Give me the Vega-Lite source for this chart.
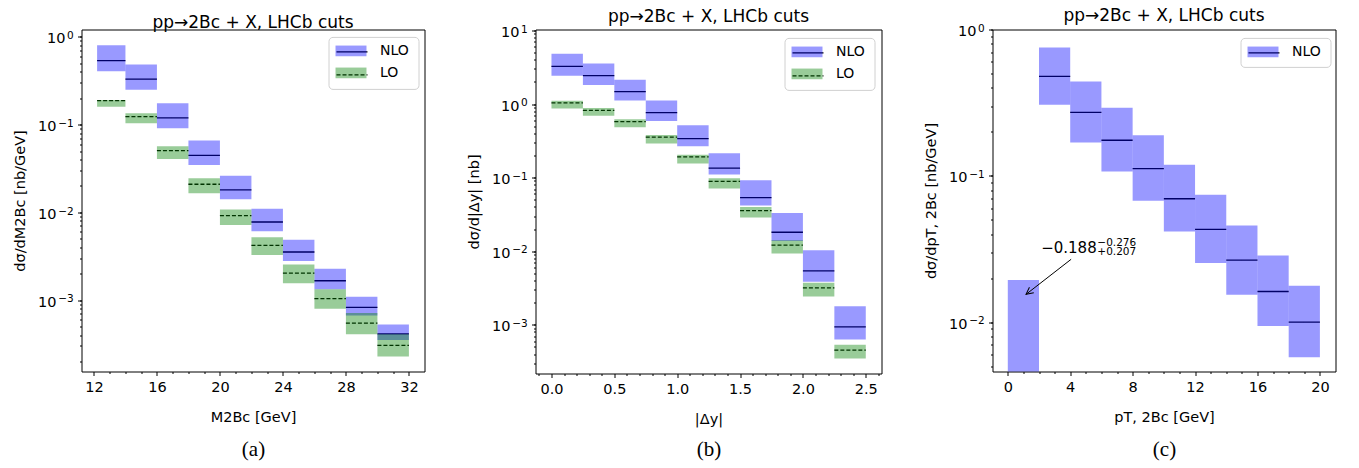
{
  "$schema": "https://vega.github.io/schema/vega-lite/v6.json",
  "padding": {"left": 11.5, "top": 6.5, "right": 5, "bottom": 5},
  "background": "white",
  "spacing": 111,
  "bounds": "flush",
  "resolve": {"scale": {"fill": "independent", "strokeDash": "independent"}, "legend": {"fill": "independent", "strokeDash": "independent"}},
  "config": {
    "view": {"stroke": "black", "strokeWidth": 1},
    "axis": {"labelFont": "DejaVu Sans", "labelFontSize": 14.5, "labelColor": "black", "tickColor": "black", "tickWidth": 1, "domain": false, "grid": false, "titleFont": "DejaVu Sans", "titleFontSize": 14.5, "titleFontWeight": "normal", "titleColor": "black", "labelFlush": false, "labelOverlap": false},
    "legend": {"labelFont": "DejaVu Sans", "labelFontSize": 14, "labelColor": "black", "title": null, "orient": "none", "symbolSize": 196, "symbolOffset": 8.5, "padding": 7, "labelOffset": 22, "rowPadding": 8},
    "title": {"font": "DejaVu Sans", "fontSize": 17, "fontWeight": "normal", "color": "black", "offset": -2, "anchor": "middle"}
  },
  "datasets": {
    "mass": [
      {"lo": 12.2, "hi": 14, "s": "NLO", "c": 0.537, "dn": 0.406, "up": 0.80},
      {"lo": 14, "hi": 16, "s": "NLO", "c": 0.329, "dn": 0.249, "up": 0.483},
      {"lo": 16, "hi": 18, "s": "NLO", "c": 0.119, "dn": 0.0908, "up": 0.175},
      {"lo": 18, "hi": 20, "s": "NLO", "c": 0.0447, "dn": 0.0347, "up": 0.0657},
      {"lo": 20, "hi": 22, "s": "NLO", "c": 0.0180, "dn": 0.0141, "up": 0.0262},
      {"lo": 22, "hi": 24, "s": "NLO", "c": 0.00776, "dn": 0.00607, "up": 0.0110},
      {"lo": 24, "hi": 26, "s": "NLO", "c": 0.00353, "dn": 0.00279, "up": 0.00488},
      {"lo": 26, "hi": 28, "s": "NLO", "c": 0.00166, "dn": 0.00133, "up": 0.00228},
      {"lo": 28, "hi": 30, "s": "NLO", "c": 0.000824, "dn": 0.000668, "up": 0.00109},
      {"lo": 30, "hi": 32, "s": "NLO", "c": 0.000413, "dn": 0.000350, "up": 0.000528},
      {"lo": 12.2, "hi": 14, "s": "LO", "c": 0.188, "dn": 0.160, "up": 0.191},
      {"lo": 14, "hi": 16, "s": "LO", "c": 0.123, "dn": 0.1036, "up": 0.135},
      {"lo": 16, "hi": 18, "s": "LO", "c": 0.0505, "dn": 0.0406, "up": 0.0566},
      {"lo": 18, "hi": 20, "s": "LO", "c": 0.0209, "dn": 0.0165, "up": 0.0244},
      {"lo": 20, "hi": 22, "s": "LO", "c": 0.00916, "dn": 0.00718, "up": 0.0108},
      {"lo": 22, "hi": 24, "s": "LO", "c": 0.00420, "dn": 0.00326, "up": 0.00519},
      {"lo": 24, "hi": 26, "s": "LO", "c": 0.00203, "dn": 0.00156, "up": 0.00255},
      {"lo": 26, "hi": 28, "s": "LO", "c": 0.00104, "dn": 0.000796, "up": 0.00133},
      {"lo": 28, "hi": 30, "s": "LO", "c": 0.000547, "dn": 0.000409, "up": 0.000711},
      {"lo": 30, "hi": 32, "s": "LO", "c": 0.000304, "dn": 0.000228, "up": 0.000409}
    ],
    "dy": [
      {"lo": 0.0, "hi": 0.25, "s": "NLO", "c": 3.25, "dn": 2.43, "up": 4.82},
      {"lo": 0.25, "hi": 0.5, "s": "NLO", "c": 2.43, "dn": 1.81, "up": 3.56},
      {"lo": 0.5, "hi": 0.75, "s": "NLO", "c": 1.47, "dn": 1.12, "up": 2.14},
      {"lo": 0.75, "hi": 1.0, "s": "NLO", "c": 0.762, "dn": 0.588, "up": 1.12},
      {"lo": 1.0, "hi": 1.25, "s": "NLO", "c": 0.338, "dn": 0.266, "up": 0.513},
      {"lo": 1.25, "hi": 1.5, "s": "NLO", "c": 0.135, "dn": 0.110, "up": 0.214},
      {"lo": 1.5, "hi": 1.75, "s": "NLO", "c": 0.0536, "dn": 0.0417, "up": 0.092},
      {"lo": 1.75, "hi": 2.0, "s": "NLO", "c": 0.0181, "dn": 0.0138, "up": 0.0331},
      {"lo": 2.0, "hi": 2.25, "s": "NLO", "c": 0.00541, "dn": 0.00384, "up": 0.0103},
      {"lo": 2.25, "hi": 2.5, "s": "NLO", "c": 0.00094, "dn": 0.000633, "up": 0.00179},
      {"lo": 0.0, "hi": 0.25, "s": "LO", "c": 1.04, "dn": 0.873, "up": 1.11},
      {"lo": 0.25, "hi": 0.5, "s": "LO", "c": 0.820, "dn": 0.695, "up": 0.883},
      {"lo": 0.5, "hi": 0.75, "s": "LO", "c": 0.575, "dn": 0.482, "up": 0.619},
      {"lo": 0.75, "hi": 1.0, "s": "LO", "c": 0.356, "dn": 0.290, "up": 0.380},
      {"lo": 1.0, "hi": 1.25, "s": "LO", "c": 0.191, "dn": 0.155, "up": 0.205},
      {"lo": 1.25, "hi": 1.5, "s": "LO", "c": 0.089, "dn": 0.071, "up": 0.098},
      {"lo": 1.5, "hi": 1.75, "s": "LO", "c": 0.0356, "dn": 0.0287, "up": 0.040},
      {"lo": 1.75, "hi": 2.0, "s": "LO", "c": 0.0121, "dn": 0.0093, "up": 0.0141},
      {"lo": 2.0, "hi": 2.25, "s": "LO", "c": 0.00318, "dn": 0.00243, "up": 0.00372},
      {"lo": 2.25, "hi": 2.5, "s": "LO", "c": 0.000453, "dn": 0.000349, "up": 0.000535}
    ],
    "pt": [
      {"lo": 0, "hi": 2, "s": "NLO", "c": -0.188, "dn": 0.004, "up": 0.0194},
      {"lo": 2, "hi": 4, "s": "NLO", "c": 0.479, "dn": 0.306, "up": 0.753},
      {"lo": 4, "hi": 6, "s": "NLO", "c": 0.271, "dn": 0.169, "up": 0.442},
      {"lo": 6, "hi": 8, "s": "NLO", "c": 0.175, "dn": 0.107, "up": 0.292},
      {"lo": 8, "hi": 10, "s": "NLO", "c": 0.112, "dn": 0.0676, "up": 0.189},
      {"lo": 10, "hi": 12, "s": "NLO", "c": 0.0697, "dn": 0.0416, "up": 0.119},
      {"lo": 12, "hi": 14, "s": "NLO", "c": 0.0430, "dn": 0.0254, "up": 0.0743},
      {"lo": 14, "hi": 16, "s": "NLO", "c": 0.0265, "dn": 0.0154, "up": 0.0458},
      {"lo": 16, "hi": 18, "s": "NLO", "c": 0.0162, "dn": 0.0094, "up": 0.0285},
      {"lo": 18, "hi": 20, "s": "NLO", "c": 0.0100, "dn": 0.00575, "up": 0.0177}
    ]
  },
  "hconcat": [
    {
      "width": 343, "height": 342,
      "title": {"text": "pp→2Bc + X, LHCb cuts"},
      "data": {"name": "mass"},
      "layer": [
        {
          "mark": {"type": "rule", "color": "black", "strokeWidth": 1.3},
          "encoding": {
            "x": {"field": "lo", "type": "quantitative", "scale": {"domain": [11.21, 32.99], "nice": false, "zero": false},
              "axis": {"orient": "bottom", "values": [12, 16, 20, 24, 28, 32], "format": "d", "tickSize": 4, "labelPadding": 5, "title": "M2Bc [GeV]", "titlePadding": 16}},
            "x2": {"field": "hi"},
            "y": {"field": "c", "type": "quantitative", "scale": {"type": "log", "domain": [0.0001535, 1.213], "nice": false},
              "axis": {"orient": "left", "values": [0.0002, 0.0003, 0.0004, 0.0005, 0.0006, 0.0007, 0.0008, 0.0009, 0.001, 0.002, 0.003, 0.004, 0.005, 0.006, 0.007, 0.008, 0.009, 0.01, 0.02, 0.03, 0.04, 0.05, 0.06, 0.07, 0.08, 0.09, 0.1, 0.2, 0.3, 0.4, 0.5, 0.6, 0.7, 0.8, 0.9, 1],
                "tickSize": 2, "labelExpr": "abs(log(datum.value)/LN10 - round(log(datum.value)/LN10)) < 0.001 ? '10' : ''", "labelBaseline": "alphabetic", "labelOffset": 6,
                "labelPadding": {"condition": {"test": "datum.value >= 0.5", "value": 14.6}, "value": 23.6},
                "title": "dσ/dM2Bc [nb/GeV]", "titlePadding": 10}},
            "strokeDash": {"field": "s", "type": "nominal", "sort": "descending", "scale": {"range": [[1, 0], [4, 2]]},
              "legend": {"legendX": 247, "legendY": 7.4, "zindex": 0, "symbolType": "M-2.214,0H2.214", "symbolStrokeColor": "black", "symbolStrokeWidth": 1.3, "symbolFillColor": "transparent", "labelOpacity": 0, "fillColor": "white", "strokeColor": "#d0d0d0", "cornerRadius": 4}}
          }
        },
        {
          "mark": {"type": "rect", "opacity": 0.4, "clip": true},
          "encoding": {
            "x": {"field": "lo", "type": "quantitative",
              "axis": {"orient": "bottom", "values": [13, 14, 15, 17, 18, 19, 21, 22, 23, 25, 26, 27, 29, 30, 31], "labels": false, "tickSize": 2, "title": "(a)", "titleFont": "Liberation Serif", "titleFontSize": 21, "titlePadding": 64}},
            "x2": {"field": "hi"},
            "y": {"field": "dn", "type": "quantitative",
              "axis": {"orient": "left", "values": [0.001, 0.01, 0.1, 1], "tickSize": 4, "labelFontSize": 10.5, "labelBaseline": "alphabetic", "labelOffset": 1.7, "labelPadding": 4.3,
                "labelExpr": "datum.value > 0.5 ? '0' : datum.value > 0.05 ? '−1' : datum.value > 0.005 ? '−2' : '−3'", "title": null}},
            "y2": {"field": "up"},
            "fill": {"field": "s", "type": "nominal", "scale": {"domain": ["NLO", "LO"], "range": ["#0000ff", "#008000"]},
              "legend": {"legendX": 247, "legendY": 7.4, "zindex": 1, "symbolType": "M-2.214,-0.764H2.214V0.764H-2.214Z", "symbolOpacity": 0.4, "symbolStrokeWidth": 0}}
          }
        }
      ],
      "resolve": {"axis": {"x": "independent", "y": "independent"}}
    },
    {
      "width": 346, "height": 344,
      "title": {"text": "pp→2Bc + X, LHCb cuts"},
      "data": {"name": "dy"},
      "layer": [
        {
          "mark": {"type": "rule", "color": "black", "strokeWidth": 1.3},
          "encoding": {
            "x": {"field": "lo", "type": "quantitative", "scale": {"domain": [-0.127, 2.625], "nice": false, "zero": false},
              "axis": {"orient": "bottom", "values": [0, 0.5, 1, 1.5, 2, 2.5], "format": ".1f", "tickSize": 4, "labelPadding": 5, "title": "|Δy|", "titlePadding": 16}},
            "x2": {"field": "hi"},
            "y": {"field": "c", "type": "quantitative", "scale": {"type": "log", "domain": [0.000218, 10.3], "nice": false},
              "axis": {"orient": "left", "values": [0.0003, 0.0004, 0.0005, 0.0006, 0.0007, 0.0008, 0.0009, 0.001, 0.002, 0.003, 0.004, 0.005, 0.006, 0.007, 0.008, 0.009, 0.01, 0.02, 0.03, 0.04, 0.05, 0.06, 0.07, 0.08, 0.09, 0.1, 0.2, 0.3, 0.4, 0.5, 0.6, 0.7, 0.8, 0.9, 1, 2, 3, 4, 5, 6, 7, 8, 9, 10],
                "tickSize": 2, "labelExpr": "abs(log(datum.value)/LN10 - round(log(datum.value)/LN10)) < 0.001 ? '10' : ''", "labelBaseline": "alphabetic", "labelOffset": 6,
                "labelPadding": {"condition": {"test": "datum.value >= 0.5", "value": 14.6}, "value": 23.6},
                "title": "dσ/d|Δy| [nb]", "titlePadding": 10}},
            "strokeDash": {"field": "s", "type": "nominal", "sort": "descending", "scale": {"range": [[1, 0], [4, 2]]},
              "legend": {"legendX": 249, "legendY": 8.4, "zindex": 0, "symbolType": "M-2.214,0H2.214", "symbolStrokeColor": "black", "symbolStrokeWidth": 1.3, "symbolFillColor": "transparent", "labelOpacity": 0, "fillColor": "white", "strokeColor": "#d0d0d0", "cornerRadius": 4}}
          }
        },
        {
          "mark": {"type": "rect", "opacity": 0.4, "clip": true},
          "encoding": {
            "x": {"field": "lo", "type": "quantitative",
              "axis": {"orient": "bottom", "values": [-0.1, 0.1, 0.2, 0.3, 0.4, 0.6, 0.7, 0.8, 0.9, 1.1, 1.2, 1.3, 1.4, 1.6, 1.7, 1.8, 1.9, 2.1, 2.2, 2.3, 2.4, 2.6], "labels": false, "tickSize": 2, "title": "(b)", "titleFont": "Liberation Serif", "titleFontSize": 21, "titlePadding": 62}},
            "x2": {"field": "hi"},
            "y": {"field": "dn", "type": "quantitative",
              "axis": {"orient": "left", "values": [0.001, 0.01, 0.1, 1, 10], "tickSize": 4, "labelFontSize": 10.5, "labelBaseline": "alphabetic", "labelOffset": 1.7, "labelPadding": 4.3,
                "labelExpr": "datum.value > 5 ? '1' : datum.value > 0.5 ? '0' : datum.value > 0.05 ? '−1' : datum.value > 0.005 ? '−2' : '−3'", "title": null}},
            "y2": {"field": "up"},
            "fill": {"field": "s", "type": "nominal", "scale": {"domain": ["NLO", "LO"], "range": ["#0000ff", "#008000"]},
              "legend": {"legendX": 249, "legendY": 8.4, "zindex": 1, "symbolType": "M-2.214,-0.764H2.214V0.764H-2.214Z", "symbolOpacity": 0.4, "symbolStrokeWidth": 0}}
          }
        }
      ],
      "resolve": {"axis": {"x": "independent", "y": "independent"}}
    },
    {
      "width": 343, "height": 342,
      "title": {"text": "pp→2Bc + X, LHCb cuts"},
      "layer": [
        {
          "data": {"name": "pt"},
          "transform": [{"filter": "datum.c > 0"}],
          "mark": {"type": "rule", "color": "black", "strokeWidth": 1.3},
          "encoding": {
            "x": {"field": "lo", "type": "quantitative", "scale": {"domain": [-0.98, 21], "nice": false, "zero": false},
              "axis": {"orient": "bottom", "values": [0, 4, 8, 12, 16, 20], "format": "d", "tickSize": 4, "labelPadding": 5, "title": "pT, 2Bc [GeV]", "titlePadding": 16}},
            "x2": {"field": "hi"},
            "y": {"field": "c", "type": "quantitative", "scale": {"type": "log", "domain": [0.0046, 1.0], "nice": false},
              "axis": {"orient": "left", "values": [0.005, 0.006, 0.007, 0.008, 0.009, 0.01, 0.02, 0.03, 0.04, 0.05, 0.06, 0.07, 0.08, 0.09, 0.1, 0.2, 0.3, 0.4, 0.5, 0.6, 0.7, 0.8, 0.9, 1],
                "tickSize": 2, "labelExpr": "abs(log(datum.value)/LN10 - round(log(datum.value)/LN10)) < 0.001 ? '10' : ''", "labelBaseline": "alphabetic", "labelOffset": 6,
                "labelPadding": {"condition": {"test": "datum.value >= 0.5", "value": 14.6}, "value": 23.6},
                "title": "dσ/dpT, 2Bc [nb/GeV]", "titlePadding": 10}},
            "strokeDash": {"field": "s", "type": "nominal", "sort": "descending", "scale": {"range": [[1, 0]]},
              "legend": {"legendX": 248, "legendY": 8.4, "zindex": 0, "symbolType": "M-2.214,0H2.214", "symbolStrokeColor": "black", "symbolStrokeWidth": 1.3, "symbolFillColor": "transparent", "labelOpacity": 0, "fillColor": "white", "strokeColor": "#d0d0d0", "cornerRadius": 4}}
          }
        },
        {
          "data": {"name": "pt"},
          "mark": {"type": "rect", "opacity": 0.4, "clip": true},
          "encoding": {
            "x": {"field": "lo", "type": "quantitative",
              "axis": {"orient": "bottom", "values": [1, 2, 3, 5, 6, 7, 9, 10, 11, 13, 14, 15, 17, 18, 19], "labels": false, "tickSize": 2, "title": "(c)", "titleFont": "Liberation Serif", "titleFontSize": 21, "titlePadding": 64}},
            "x2": {"field": "hi"},
            "y": {"field": "dn", "type": "quantitative",
              "axis": {"orient": "left", "values": [0.01, 0.1, 1], "tickSize": 4, "labelFontSize": 10.5, "labelBaseline": "alphabetic", "labelOffset": 1.7, "labelPadding": 4.3,
                "labelExpr": "datum.value > 0.5 ? '0' : datum.value > 0.05 ? '−1' : '−2'", "title": null}},
            "y2": {"field": "up"},
            "fill": {"field": "s", "type": "nominal", "scale": {"domain": ["NLO"], "range": ["#0000ff"]},
              "legend": {"legendX": 248, "legendY": 8.4, "zindex": 1, "symbolType": "M-2.214,-0.764H2.214V0.764H-2.214Z", "symbolOpacity": 0.4, "symbolStrokeWidth": 0}}
          }
        },
        {
          "data": {"values": [{"ax": 4.06, "ay": 0.0269, "hx": 1.17, "hy": 0.01549}]},
          "mark": {"type": "rule", "color": "black", "strokeWidth": 1},
          "encoding": {
            "x": {"field": "ax", "type": "quantitative", "axis": null},
            "y": {"field": "ay", "type": "quantitative", "axis": null},
            "x2": {"field": "hx"},
            "y2": {"field": "hy"}
          }
        },
        {
          "data": {"values": [{"hx": 1.17, "hy": 0.01549}]},
          "mark": {"type": "point", "shape": "M-0.5,1L0,0L0.5,1", "filled": false, "stroke": "black", "strokeWidth": 1, "opacity": 1, "size": 200, "angle": 232},
          "encoding": {
            "x": {"field": "hx", "type": "quantitative", "axis": null},
            "y": {"field": "hy", "type": "quantitative", "axis": null}
          }
        },
        {
          "data": {"values": [{"tx": 2.14, "ty": 0.02985, "t": "−0.188"}]},
          "mark": {"type": "text", "font": "DejaVu Sans", "fontSize": 15, "align": "left", "baseline": "alphabetic", "color": "black"},
          "encoding": {
            "x": {"field": "tx", "type": "quantitative", "axis": null},
            "y": {"field": "ty", "type": "quantitative", "axis": null},
            "text": {"field": "t"}
          }
        },
        {
          "data": {"values": [{"tx": 5.74, "ty": 0.0332, "t": "−0.276"}, {"tx": 5.74, "ty": 0.02868, "t": "+0.207"}]},
          "mark": {"type": "text", "font": "DejaVu Sans", "fontSize": 10.5, "align": "left", "baseline": "alphabetic", "color": "black"},
          "encoding": {
            "x": {"field": "tx", "type": "quantitative", "axis": null},
            "y": {"field": "ty", "type": "quantitative", "axis": null},
            "text": {"field": "t"}
          }
        }
      ],
      "resolve": {"axis": {"x": "independent", "y": "independent"}}
    }
  ]
}
